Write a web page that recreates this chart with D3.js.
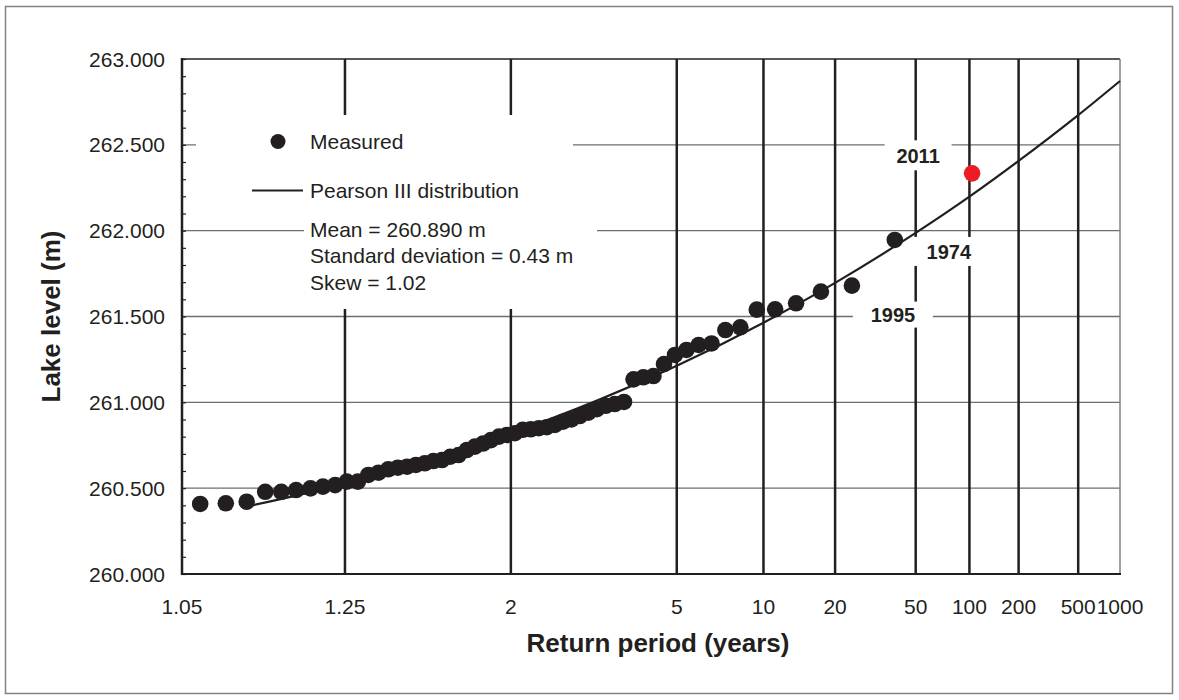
<!DOCTYPE html>
<html>
<head>
<meta charset="utf-8">
<script src="https://cdn.jsdelivr.net/npm/d3@7"></script>
<style>
  body { margin: 0; background: #fff; }
  svg { display: block; font-family: "Liberation Sans", Arial, sans-serif; }
</style>
</head>
<body>
<div id="chart"></div>
<script>
// measured annual maximum lake levels, rank 1 (highest) first
const returnPeriods = [103.67, 38.88, 23.92, 17.28, 13.52, 11.11, 9.424, 8.184, 7.233, 6.479,
  5.868, 5.362, 4.937, 4.574, 4.260, 3.987, 3.747, 3.534, 3.344, 3.173,
  3.019, 2.880, 2.752, 2.636, 2.528, 2.430, 2.338, 2.254, 2.175, 2.101,
  2.033, 1.968, 1.908, 1.851, 1.798, 1.747, 1.699, 1.654, 1.611, 1.571,
  1.532, 1.495, 1.460, 1.427, 1.395, 1.364, 1.335, 1.307, 1.280, 1.254,
  1.229, 1.205, 1.183, 1.160, 1.139, 1.119, 1.099, 1.080, 1.061];
const lakeLevels = [262.334, 261.946, 261.680, 261.645, 261.577, 261.542, 261.540, 261.437, 261.421, 261.343,
  261.334, 261.305, 261.276, 261.223, 261.153, 261.146, 261.134, 261.002, 260.990, 260.980,
  260.960, 260.940, 260.920, 260.900, 260.887, 260.868, 260.855, 260.849, 260.843, 260.840,
  260.820, 260.810, 260.800, 260.780, 260.760, 260.742, 260.722, 260.693, 260.683, 260.664,
  260.658, 260.645, 260.635, 260.625, 260.619, 260.610, 260.590, 260.577, 260.538, 260.538,
  260.518, 260.509, 260.499, 260.489, 260.479, 260.479, 260.421, 260.412, 260.408];

// Pearson III curve
const curveReturnPeriods = [1.1, 1.25, 1.5, 2, 3, 5, 10, 20, 50, 100, 200, 500, 1000];
const curveLevels = [260.394, 260.525, 260.657, 260.819, 261.007, 261.213, 261.464, 261.696, 261.987, 262.198, 262.406, 262.673, 262.872];

const xTickValues = [1.05, 1.25, 2, 5, 10, 20, 50, 100, 200, 500, 1000];
const xTickLabels = ["1.05", "1.25", "2", "5", "10", "20", "50", "100", "200", "500", "1000"];
const yTickValues = [260, 260.5, 261, 261.5, 262, 262.5, 263];

const yearLabels = ["2011", "1974", "1995"];   // ranks 1, 2, 3
const legendStats = ["Mean = 260.890 m", "Standard deviation = 0.43 m", "Skew = 1.02"];

const W = 1179, H = 700;
const ink = "#231f20";

// inverse standard normal (Acklam)
function probit(p) {
  const a = [-3.969683028665376e+01, 2.209460984245205e+02, -2.759285104469687e+02, 1.383577518672690e+02, -3.066479806614716e+01, 2.506628277459239e+00];
  const b = [-5.447609879822406e+01, 1.615858368580409e+02, -1.556989798598866e+02, 6.680131188771972e+01, -1.328068155288572e+01];
  const c = [-7.784894002430293e-03, -3.223964580411365e-01, -2.400758277161838e+00, -2.549732539343734e+00, 4.374664141464968e+00, 2.938163982698783e+00];
  const d = [7.784695709041462e-03, 3.224671290700398e-01, 2.445134137142996e+00, 3.754408661907416e+00];
  const pl = 0.02425;
  let q, r;
  if (p < pl) {
    q = Math.sqrt(-2 * Math.log(p));
    return (((((c[0]*q+c[1])*q+c[2])*q+c[3])*q+c[4])*q+c[5]) / ((((d[0]*q+d[1])*q+d[2])*q+d[3])*q+1);
  }
  if (p <= 1 - pl) {
    q = p - 0.5; r = q * q;
    return (((((a[0]*r+a[1])*r+a[2])*r+a[3])*r+a[4])*r+a[5])*q / (((((b[0]*r+b[1])*r+b[2])*r+b[3])*r+b[4])*r+1);
  }
  q = Math.sqrt(-2 * Math.log(1 - p));
  return -(((((c[0]*q+c[1])*q+c[2])*q+c[3])*q+c[4])*q+c[5]) / ((((d[0]*q+d[1])*q+d[2])*q+d[3])*q+1);
}
const zOf = T => probit(1 - 1 / T);

const zScale = d3.scaleLinear()
  .domain([zOf(1.05), zOf(1000)])
  .range([182, 1120]);
const x = T => zScale(zOf(T));

const y = d3.scaleLinear()
  .domain([260, 263])
  .range([574, 59]);

const svg = d3.select("#chart")
  .append("svg")
  .attr("width", W)
  .attr("height", H);

// outer frame
svg.append("rect")
  .attr("x", 5.5).attr("y", 6.5)
  .attr("width", 1167).attr("height", 687)
  .attr("fill", "#fff")
  .attr("stroke", "#808285")
  .attr("stroke-width", 1.5);

// horizontal grid
svg.append("g")
  .selectAll("line")
  .data(yTickValues.filter(v => v > 260 && v < 263))
  .enter()
  .append("line")
  .attr("x1", 182).attr("x2", 1120)
  .attr("y1", d => y(d)).attr("y2", d => y(d))
  .attr("stroke", "#6d6e71")
  .attr("stroke-width", 1.3);

// vertical grid
svg.append("g")
  .selectAll("line")
  .data(xTickValues.filter(v => v > 1.05 && v < 1000))
  .enter()
  .append("line")
  .attr("x1", d => x(d)).attr("x2", d => x(d))
  .attr("y1", y(263)).attr("y2", y(260))
  .attr("stroke", ink)
  .attr("stroke-width", 2.5);

// top and right edges of plot
svg.append("line")
  .attr("x1", 182).attr("x2", 1120)
  .attr("y1", y(263)).attr("y2", y(263))
  .attr("stroke", ink).attr("stroke-width", 1.5);
svg.append("line")
  .attr("x1", x(1000)).attr("x2", x(1000))
  .attr("y1", y(263)).attr("y2", y(260))
  .attr("stroke", "#808285").attr("stroke-width", 1.5);

// legend backgrounds (cover grid)
svg.append("rect").attr("x", 196).attr("y", 115).attr("width", 377).attr("height", 95).attr("fill", "#fff");
svg.append("rect").attr("x", 304).attr("y", 205).attr("width", 293).attr("height", 104).attr("fill", "#fff");

// y axis
const yAxis = d3.axisLeft(y)
  .tickValues(d3.range(2600, 2631).map(v => v / 10))
  .tickSize(-4)
  .tickFormat("");
svg.append("g")
  .attr("transform", "translate(182,0)")
  .call(yAxis)
  .call(g => g.select(".domain").remove())
  .call(g => g.selectAll(".tick line").attr("stroke", ink).attr("stroke-width", 1.2));

svg.append("g")
  .selectAll("text")
  .data(yTickValues)
  .enter()
  .append("text")
  .attr("x", 165)
  .attr("y", d => y(d) + 7.5)
  .attr("text-anchor", "end")
  .attr("font-size", 21)
  .attr("fill", ink)
  .text(d => d3.format(".3f")(d));

svg.append("line")
  .attr("x1", 182).attr("x2", 182)
  .attr("y1", y(263) - 1).attr("y2", y(260) + 1)
  .attr("stroke", ink).attr("stroke-width", 2.5);

// x axis
svg.append("line")
  .attr("x1", 181).attr("x2", 1121)
  .attr("y1", y(260)).attr("y2", y(260))
  .attr("stroke", ink).attr("stroke-width", 2);

svg.append("g")
  .selectAll("text")
  .data(xTickValues)
  .enter()
  .append("text")
  .attr("x", d => x(d))
  .attr("y", 614)
  .attr("text-anchor", "middle")
  .attr("font-size", 21)
  .attr("fill", ink)
  .text((d, i) => xTickLabels[i]);

// axis titles
svg.append("text")
  .attr("x", 658).attr("y", 652)
  .attr("text-anchor", "middle")
  .attr("font-size", 26).attr("font-weight", "bold")
  .attr("fill", ink)
  .text("Return period (years)");

svg.append("text")
  .attr("transform", "translate(60," + ((y(260) + y(263)) / 2) + ") rotate(-90)")
  .attr("text-anchor", "middle")
  .attr("font-size", 26).attr("font-weight", "bold")
  .attr("fill", ink)
  .text("Lake level (m)");

// year labels with white boxes
const labelLayout = [
  { dx: -54, dy: -10, w: 67, top: 23, bottom: 7 },
  { dx: 54, dy: 19, w: 75, top: 22, bottom: 7, left: 16 },
  { dx: 41, dy: 36, w: 80, top: 20, bottom: 6 }
];
yearLabels.forEach((label, i) => {
  const px = x(returnPeriods[i]), py = y(lakeLevels[i]);
  const L = labelLayout[i];
  const cx = px + L.dx, by = py + L.dy;
  const left = L.left !== undefined ? cx - L.w / 2 + (L.left - (L.w / 2 - 22)) : cx - L.w / 2;
  svg.append("rect")
    .attr("x", left).attr("y", by - L.top)
    .attr("width", L.w).attr("height", L.top + L.bottom)
    .attr("fill", "#fff");
  svg.append("text")
    .attr("x", cx).attr("y", by)
    .attr("text-anchor", "middle")
    .attr("font-size", 20).attr("font-weight", "bold")
    .attr("fill", ink)
    .text(label);
});

// Pearson III curve
const curveData = curveReturnPeriods.map((T, i) => [T, curveLevels[i]]);
svg.append("path")
  .datum(curveData)
  .attr("fill", "none")
  .attr("stroke", ink)
  .attr("stroke-width", 2.2)
  .attr("d", d3.line().x(d => x(d[0])).y(d => y(d[1])).curve(d3.curveMonotoneX));

// measured points
const points = returnPeriods.map((T, i) => ({ T: T, v: lakeLevels[i], i: i }));
svg.append("g")
  .selectAll("circle")
  .data(points.slice().reverse())
  .enter()
  .append("circle")
  .attr("cx", d => x(d.T))
  .attr("cy", d => y(d.v))
  .attr("r", 8.3)
  .attr("fill", d => d.i === 0 ? "#ed1c24" : ink);

// legend
svg.append("circle").attr("cx", 278).attr("cy", 141.5).attr("r", 7.5).attr("fill", ink);
svg.append("text").attr("x", 310).attr("y", 148.5).attr("font-size", 21).attr("fill", ink).text("Measured");
svg.append("line").attr("x1", 252).attr("x2", 303).attr("y1", 190.5).attr("y2", 190.5)
  .attr("stroke", ink).attr("stroke-width", 2.2);
svg.append("text").attr("x", 310).attr("y", 198).attr("font-size", 21).attr("fill", ink).text("Pearson III distribution");
svg.append("g")
  .selectAll("text")
  .data(legendStats)
  .enter()
  .append("text")
  .attr("x", 310)
  .attr("y", (d, i) => 236.5 + i * 26.8)
  .attr("font-size", 21)
  .attr("fill", ink)
  .text(d => d);
</script>
</body>
</html>
